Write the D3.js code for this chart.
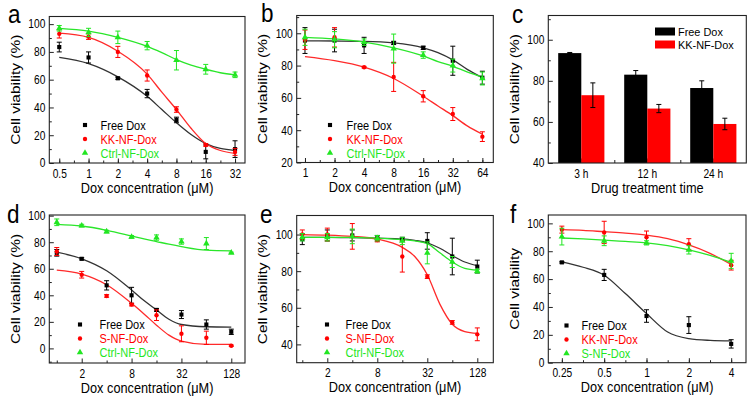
<!DOCTYPE html>
<html><head><meta charset="utf-8">
<script src="https://cdn.jsdelivr.net/npm/d3@7"></script>
<style>body{margin:0;background:#fff}svg{display:block}text{font-family:'Liberation Sans',Arial,sans-serif}</style>
</head><body><svg id="chart" width="754" height="403"></svg>
<script>
// ---------- Panel a ----------
const aX = [0.5, 1, 2, 4, 8, 16, 32];
const aXLabels = ['0.5', '1', '2', '4', '8', '16', '32'];
const aFree = [83.5, 76, 61, 50, 31, 8, 10];
const aFreeErr = [3.5, 4, 0.8, 3, 2, 5, 6];
const aKK = [93, 91, 80, 63, 38.5, 13, 8];
const aKKErr = [3, 2, 4, 4, 2, 1, 2.5];
const aCtrl = [97, 94, 90.5, 84.5, 74, 67.5, 63.5];
const aCtrlErr = [2, 3, 4.5, 3, 7, 3.5, 2];
const aFitX = [0.5, 1, 2, 4, 5.66, 8, 11.3, 16, 22.6, 32];
const aFreeFit = [76, 71.5, 62, 48, 38.5, 29, 20.5, 14, 10.5, 9];
const aKKFit = [93.5, 90.5, 80.5, 64, 51, 38.5, 25, 14, 9, 7];
const aCtrlFit = [97, 95, 90.5, 84, 79.5, 74.5, 70.5, 67.5, 65, 63.5];

// ---------- Panel b ----------
const bX = [1, 2, 4, 8, 16, 32, 64];
const bXLabels = ['1', '2', '4', '8', '16', '32', '64'];
const bFree = [95.5, 95.5, 92.5, 94, 91, 83, 72.5];
const bFreeErr = [8, 7, 5, 1, 1, 9, 4];
const bKK = [96, 97.5, 79, 73, 61, 50, 36];
const bKKErr = [6, 6, 0.5, 9, 3.5, 4, 3];
const bCtrl = [97.5, 96, 94.5, 90.5, 86.5, 80, 72];
const bCtrlErr = [5, 5, 2, 9, 2, 4, 4];
const bFitX = [1, 2, 4, 8, 16, 22.6, 32, 45.3, 64];
const bFreeFit = [95.3, 95.2, 95, 94, 91, 88, 83.5, 77.5, 72.5];
const bKKFit = [85.5, 83, 79, 72, 61, 55, 49, 42.5, 37.5];
const bCtrlFit = [97.5, 96.5, 94.5, 91, 86, 82.5, 79.5, 76, 73];

// ---------- Panel c ----------
const cGroups = ['3 h', '12 h', '24 h'];
const cFree = [93.5, 83, 76.5];
const cFreeErr = [0.3, 2, 3.5];
const cKK = [73, 66.5, 59];
const cKKErr = [6, 2, 2.8];

// ---------- Panel d ----------
const dX = [1, 2, 4, 8, 16, 32, 64, 128];
const dTicks = [2, 8, 32, 128];
const dTickLabels = ['2', '8', '32', '128'];
const dFree = [72, 67.5, 47.5, 40, 29, 25.5, 18, 12.5];
const dFreeErr = [2.5, 0.8, 3.5, 6, 1, 3, 3.5, 2];
const dS = [73, 55.5, 39.5, 33, 25, 11, 8, 2];
const dSErr = [3, 2.5, 1, 1, 4, 6, 5, 0.5];
const dCtrl = [95, 92.5, 88, 84, 83.5, 80.5, 79, 72];
const dCtrlErr = [2.5, 1, 1, 1, 2, 2, 4.5, 0.5];
const dFitX = [1, 2, 4, 8, 11.3, 16, 22.6, 32, 64, 128];
const dFreeFit = [72.5, 67.5, 58.5, 44, 36, 29, 22, 18, 16.3, 16];
const dSFit = [59, 56, 48, 34, 26, 17.5, 10, 5.5, 3, 3];
const dCtrlFit = [93.5, 92.2, 89, 84.7, 82.5, 80.5, 78.5, 76.7, 74, 73.5];

// ---------- Panel e ----------
const eX = [1, 2, 4, 8, 16, 32, 64, 128];
const eTicks = [2, 8, 32, 128];
const eTickLabels = ['2', '8', '32', '128'];
const eFree = [97.5, 99.5, 99.5, 98, 97.5, 96.5, 88, 82.5];
const eFreeErr = [3, 3, 3, 1.5, 1, 4.5, 10, 3.5];
const eS = [100, 100, 99, 97, 88, 77, 52, 45.5];
const eSErr = [2.5, 3.5, 7, 1, 8.5, 1, 1, 3.5];
const eCtrl = [98.5, 98.5, 99, 98, 96.5, 90, 85, 80];
const eCtrlErr = [2, 2, 4, 1.5, 2, 6, 3, 1];
const eFitX = [1, 2, 4, 8, 16, 22.6, 32, 45.3, 64, 90.5, 128];
const eFreeFit = [98.5, 98.5, 98.3, 98, 97.6, 96.8, 95.5, 92.5, 88.5, 85, 83];
const eSFit = [100, 99.7, 99, 97.5, 93, 88, 78, 62, 51, 47, 46];
const eCtrlFit = [98.5, 98.5, 98.5, 98, 97.2, 96.5, 95, 90, 85, 81.5, 80.5];

// ---------- Panel f ----------
const fX = [0.25, 0.5, 1, 2, 4];
const fXLabels = ['0.25', '0.5', '1', '2', '4'];
const fFree = [72, 63, 33.5, 27, 13.5];
const fFreeErr = [0.5, 4, 4.5, 6, 3];
const fKK = [95.5, 93.5, 90, 85, 70];
const fKKErr = [2.5, 8, 4.5, 4, 3.5];
const fS = [90.5, 87.5, 86, 81, 73];
const fSErr = [6, 3.5, 1.5, 3, 5.5];
const fFitX = [0.25, 0.354, 0.5, 0.707, 1, 1.414, 2, 2.83, 4];
const fFreeFit = [72.4, 68.5, 62.8, 49.6, 35.3, 22, 17.3, 16, 15.6];
const fKKFit = [95.5, 95, 94, 93, 91.5, 89, 84.5, 78.5, 70.5];
const fSFit = [89.5, 88.8, 88, 87, 86, 84, 81, 77, 72];

// ---------- styling ----------
const BLACK = '#000000', RED = '#ff0000', GREEN = '#22e622';
const LINE_BLACK = '#333333', LINE_RED = '#ff2a2a', LINE_GREEN = '#2ae62a';
const SX = 0.85;
const svg = d3.select('#chart');

function txt(g, x, y, s, size, opt = {}) {
  const sx = opt.sx || SX;
  let tr = `translate(${x},${y}) scale(${sx},1)`;
  if (opt.rotate) tr += ` rotate(${opt.rotate})`;
  return g.append('text').attr('transform', tr)
    .attr('font-size', size)
    .attr('text-anchor', opt.anchor || 'start')
    .attr('dy', opt.dy || '0')
    .attr('fill', opt.fill || '#000')
    .text(s);
}

function styleAxis(sel, isLeft) {
  sel.select('.domain').remove();
  sel.selectAll('.tick line').attr('stroke', '#222').attr('stroke-width', 1);
  sel.selectAll('.tick text').attr('font-size', 12).attr('fill', '#000')
    .attr('transform', `scale(${SX},1)`)
    .attr('font-family', "'Liberation Sans',Arial,sans-serif");
  if (isLeft) sel.selectAll('.tick text').attr('x', -4 / SX);
}

function frameAxes(g, P, x, y, xTicks, xLabels, xMinor, yTicks, yMinor) {
  g.append('g').attr('transform', `translate(0,${P.B})`)
    .call(d3.axisBottom(x).tickValues(xMinor).tickSize(-2.5).tickSizeOuter(0).tickFormat(''))
    .call(s => styleAxis(s, false));
  g.append('g').attr('transform', `translate(${P.L},0)`)
    .call(d3.axisLeft(y).tickValues(yMinor).tickSize(-2.5).tickSizeOuter(0).tickFormat(''))
    .call(s => styleAxis(s, true));
  g.append('g').attr('transform', `translate(0,${P.B})`)
    .call(d3.axisBottom(x).tickValues(xTicks).tickSize(-4.5).tickSizeOuter(0).tickPadding(6)
      .tickFormat((d, i) => xLabels[i]))
    .call(s => styleAxis(s, false));
  g.append('g').attr('transform', `translate(${P.L},0)`)
    .call(d3.axisLeft(y).tickValues(yTicks).tickSize(-4.5).tickSizeOuter(0).tickPadding(4)
      .tickFormat(d3.format('d')))
    .call(s => styleAxis(s, true));
}

function drawFrame(g, P) {
  g.append('rect').attr('x', P.L).attr('y', P.T).attr('width', P.R - P.L).attr('height', P.B - P.T)
    .attr('fill', 'none').attr('stroke', '#222').attr('stroke-width', 1.1);
}

function titles(g, P, letter, yTitle, xTitle) {
  txt(g, P.L - 34, (P.T + P.B) / 2, yTitle, 15.5, {anchor: 'middle', rotate: -90, dy: '0.35em'});
  txt(g, (P.L + P.R) / 2, P.B + 29.5, xTitle, 15, {anchor: 'middle'});
  txt(g, P.letterX, P.letterY, letter, 25, {sx: 0.9});
}

const symbols = {square: d3.symbolSquare, circle: d3.symbolCircle, triangle: d3.symbolTriangle};
const symSize = {square: 17, circle: 15, triangle: 18};

function linePanel(P) {
  const g = svg.append('g');
  const x = d3.scaleLog().base(2).domain(P.xDomain).range([P.L, P.R]);
  const y = d3.scaleLinear().domain(P.yDomain).range([P.B, P.T]);
  frameAxes(g, P, x, y, P.xTicks, P.xLabels, P.xMinor, P.yTicks, P.yMinor);
  const plot = g.append('g');
  P.series.forEach(s => {
    const pts = s.fitX.map((v, i) => [v, s.fit[i]]);
    plot.append('path').datum(pts)
      .attr('d', d3.line().x(d => x(d[0])).y(d => y(d[1])).curve(d3.curveMonotoneX))
      .attr('fill', 'none').attr('stroke', s.line).attr('stroke-width', 1.3);
  });
  P.series.forEach(s => {
    const eg = plot.append('g').attr('stroke', s.color).attr('stroke-width', 1);
    s.x.forEach((v, i) => {
      const cx = x(v), y1 = y(s.y[i] - s.err[i]), y2 = y(s.y[i] + s.err[i]);
      eg.append('line').attr('x1', cx).attr('x2', cx).attr('y1', y1).attr('y2', y2);
      eg.append('line').attr('x1', cx - 2.5).attr('x2', cx + 2.5).attr('y1', y1).attr('y2', y1);
      eg.append('line').attr('x1', cx - 2.5).attr('x2', cx + 2.5).attr('y1', y2).attr('y2', y2);
    });
    plot.append('g').selectAll('path').data(s.x).join('path')
      .attr('transform', (v, i) => `translate(${x(v)},${y(s.y[i])})`)
      .attr('d', d3.symbol(symbols[s.shape], symSize[s.shape]))
      .attr('fill', s.color);
  });
  drawFrame(g, P);
  P.series.forEach((s, i) => {
    const ly = P.legY + i * P.legDy;
    g.append('path').attr('transform', `translate(${P.legSymX},${ly})`)
      .attr('d', d3.symbol(symbols[s.shape], symSize[s.shape]))
      .attr('fill', s.color);
    txt(g, P.legTextX, ly, s.name, 12.5, {dy: '0.36em', fill: s.color, sx: 0.88});
  });
  titles(g, P, P.letter, P.yTitle, 'Dox concentration (\u03bcM)');
}

const halfOct = (lo, hi) => { const r = []; for (let k = lo; k <= hi + 1e-9; k += 0.5) r.push(Math.pow(2, k)); return r; };
const range = (a, b, s) => d3.range(a, b + 1e-9, s);

// Panel a
linePanel({
  L: 49.3, R: 245, T: 16.5, B: 163, xDomain: [Math.pow(2, -1.34), Math.pow(2, 5.34)], yDomain: [0, 105.5],
  xTicks: aX, xLabels: aXLabels, xMinor: halfOct(-1, 5), yTicks: range(0, 100, 20), yMinor: range(10, 100, 20),
  letter: 'a', letterX: 8, letterY: 23, yTitle: 'Cell viability (%)',
  legSymX: 85, legTextX: 100.5, legY: 125, legDy: 14,
  series: [
    {name: 'Free Dox', color: BLACK, line: LINE_BLACK, shape: 'square', x: aX, y: aFree, err: aFreeErr, fitX: aFitX, fit: aFreeFit},
    {name: 'KK-NF-Dox', color: RED, line: LINE_RED, shape: 'circle', x: aX, y: aKK, err: aKKErr, fitX: aFitX, fit: aKKFit},
    {name: 'Ctrl-NF-Dox', color: GREEN, line: LINE_GREEN, shape: 'triangle', x: aX, y: aCtrl, err: aCtrlErr, fitX: aFitX, fit: aCtrlFit}
  ]
});

// Panel b
linePanel({
  L: 296.7, R: 493.3, T: 15.5, B: 162.5, xDomain: [Math.pow(2, -0.28), Math.pow(2, 6.37)], yDomain: [20, 111],
  xTicks: bX, xLabels: bXLabels, xMinor: halfOct(0, 6), yTicks: range(20, 100, 20), yMinor: range(30, 110, 20),
  letter: 'b', letterX: 261, letterY: 22, yTitle: 'Cell viability (%)',
  legSymX: 330, legTextX: 346.5, legY: 125, legDy: 14,
  series: [
    {name: 'Free Dox', color: BLACK, line: LINE_BLACK, shape: 'square', x: bX, y: bFree, err: bFreeErr, fitX: bFitX, fit: bFreeFit},
    {name: 'KK-NF-Dox', color: RED, line: LINE_RED, shape: 'circle', x: bX, y: bKK, err: bKKErr, fitX: bFitX, fit: bKKFit},
    {name: 'Ctrl-NF-Dox', color: GREEN, line: LINE_GREEN, shape: 'triangle', x: bX, y: bCtrl, err: bCtrlErr, fitX: bFitX, fit: bCtrlFit}
  ]
});

// Panel c (bars)
(function () {
  const P = {L: 548.3, R: 746.3, T: 15.5, B: 163, letterX: 512, letterY: 23};
  const g = svg.append('g');
  const x0 = d3.scaleBand().domain(cGroups).range([P.L, P.R]).paddingInner(0.3).paddingOuter(0.15);
  const x1 = d3.scaleBand().domain(['Free Dox', 'KK-NF-Dox']).range([0, x0.bandwidth()]);
  const y = d3.scaleLinear().domain([40, 111.8]).range([P.B, P.T]);
  const bounds = [x0(cGroups[1]) - x0.step() * 0.15, x0(cGroups[2]) - x0.step() * 0.15];
  const xs = d3.scaleLinear().domain([P.L, P.R]).range([P.L, P.R]);
  g.append('g').attr('transform', `translate(0,${P.B})`)
    .call(d3.axisBottom(xs).tickValues(bounds).tickSize(-3).tickSizeOuter(0).tickFormat(''))
    .call(s => styleAxis(s, false));
  g.append('g').attr('transform', `translate(0,${P.B})`)
    .call(d3.axisBottom(x0).tickSize(-4.5).tickSizeOuter(0).tickPadding(6))
    .call(s => styleAxis(s, false));
  g.append('g').attr('transform', `translate(${P.L},0)`)
    .call(d3.axisLeft(y).tickValues(range(50, 110, 20)).tickSize(-2.5).tickSizeOuter(0).tickFormat(''))
    .call(s => styleAxis(s, true));
  g.append('g').attr('transform', `translate(${P.L},0)`)
    .call(d3.axisLeft(y).tickValues(range(40, 100, 20)).tickSize(-4.5).tickSizeOuter(0).tickPadding(4).tickFormat(d3.format('d')))
    .call(s => styleAxis(s, true));
  const sers = [
    {name: 'Free Dox', color: BLACK, v: cFree, e: cFreeErr},
    {name: 'KK-NF-Dox', color: RED, v: cKK, e: cKKErr}
  ];
  sers.forEach(s => {
    cGroups.forEach((grp, i) => {
      const bx = x0(grp) + x1(s.name), bw = x1.bandwidth();
      g.append('rect').attr('x', bx).attr('y', y(s.v[i])).attr('width', bw).attr('height', y(40) - y(s.v[i]))
        .attr('fill', s.color);
      const cx = bx + bw / 2, y1 = y(s.v[i] - s.e[i]), y2 = y(s.v[i] + s.e[i]);
      const eg = g.append('g').attr('stroke', '#000').attr('stroke-width', 1);
      eg.append('line').attr('x1', cx).attr('x2', cx).attr('y1', y1).attr('y2', y2);
      eg.append('line').attr('x1', cx - 2.5).attr('x2', cx + 2.5).attr('y1', y1).attr('y2', y1);
      eg.append('line').attr('x1', cx - 2.5).attr('x2', cx + 2.5).attr('y1', y2).attr('y2', y2);
    });
  });
  drawFrame(g, P);
  sers.forEach((s, i) => {
    const ly = 31.5 + i * 13;
    g.append('rect').attr('x', 655).attr('y', ly - 4).attr('width', 20).attr('height', 8).attr('fill', s.color);
    txt(g, 678, ly, s.name, 11.5, {dy: '0.36em', sx: 0.95});
  });
  titles(g, P, 'c', 'Cell viability (%)', 'Drug treatment time');
})();

// Panel d
linePanel({
  L: 49.3, R: 245, T: 215, B: 363, xDomain: [Math.pow(2, -0.3), Math.pow(2, 7.55)], yDomain: [-11, 100.5],
  xTicks: dTicks, xLabels: dTickLabels, xMinor: [1, 4, 16, 64], yTicks: range(0, 100, 20), yMinor: range(-10, 90, 20),
  letter: 'd', letterX: 7, letterY: 223, yTitle: 'Cell viability (%)',
  legSymX: 80, legTextX: 99.5, legY: 324.5, legDy: 14,
  series: [
    {name: 'Free Dox', color: BLACK, line: LINE_BLACK, shape: 'square', x: dX, y: dFree, err: dFreeErr, fitX: dFitX, fit: dFreeFit},
    {name: 'S-NF-Dox', color: RED, line: LINE_RED, shape: 'circle', x: dX, y: dS, err: dSErr, fitX: dFitX, fit: dSFit},
    {name: 'Ctrl-NF-Dox', color: GREEN, line: LINE_GREEN, shape: 'triangle', x: dX, y: dCtrl, err: dCtrlErr, fitX: dFitX, fit: dCtrlFit}
  ]
});

// Panel e
linePanel({
  L: 296.7, R: 493.3, T: 215.5, B: 362.7, xDomain: [Math.pow(2, -0.224), Math.pow(2, 7.64)], yDomain: [30, 110.4],
  xTicks: eTicks, xLabels: eTickLabels, xMinor: [1, 4, 16, 64], yTicks: range(40, 100, 20), yMinor: range(50, 90, 20),
  letter: 'e', letterX: 260, letterY: 223, yTitle: 'Cell viability (%)',
  legSymX: 327, legTextX: 345.5, legY: 324.5, legDy: 14,
  series: [
    {name: 'Free Dox', color: BLACK, line: LINE_BLACK, shape: 'square', x: eX, y: eFree, err: eFreeErr, fitX: eFitX, fit: eFreeFit},
    {name: 'S-NF-Dox', color: RED, line: LINE_RED, shape: 'circle', x: eX, y: eS, err: eSErr, fitX: eFitX, fit: eSFit},
    {name: 'Ctrl-NF-Dox', color: GREEN, line: LINE_GREEN, shape: 'triangle', x: eX, y: eCtrl, err: eCtrlErr, fitX: eFitX, fit: eCtrlFit}
  ]
});

// Panel f
linePanel({
  L: 548.3, R: 746, T: 215, B: 362.7, xDomain: [Math.pow(2, -2.32), Math.pow(2, 2.35)], yDomain: [0, 106],
  xTicks: fX, xLabels: fXLabels, xMinor: halfOct(-2, 2), yTicks: range(0, 100, 20), yMinor: range(10, 90, 20),
  letter: 'f', letterX: 510, letterY: 223, yTitle: 'Cell viability',
  legSymX: 566.5, legTextX: 581.5, legY: 325.5, legDy: 14,
  series: [
    {name: 'Free Dox', color: BLACK, line: LINE_BLACK, shape: 'square', x: fX, y: fFree, err: fFreeErr, fitX: fFitX, fit: fFreeFit},
    {name: 'KK-NF-Dox', color: RED, line: LINE_RED, shape: 'circle', x: fX, y: fKK, err: fKKErr, fitX: fFitX, fit: fKKFit},
    {name: 'S-NF-Dox', color: GREEN, line: LINE_GREEN, shape: 'triangle', x: fX, y: fS, err: fSErr, fitX: fFitX, fit: fSFit}
  ]
});
</script>
</body></html>
